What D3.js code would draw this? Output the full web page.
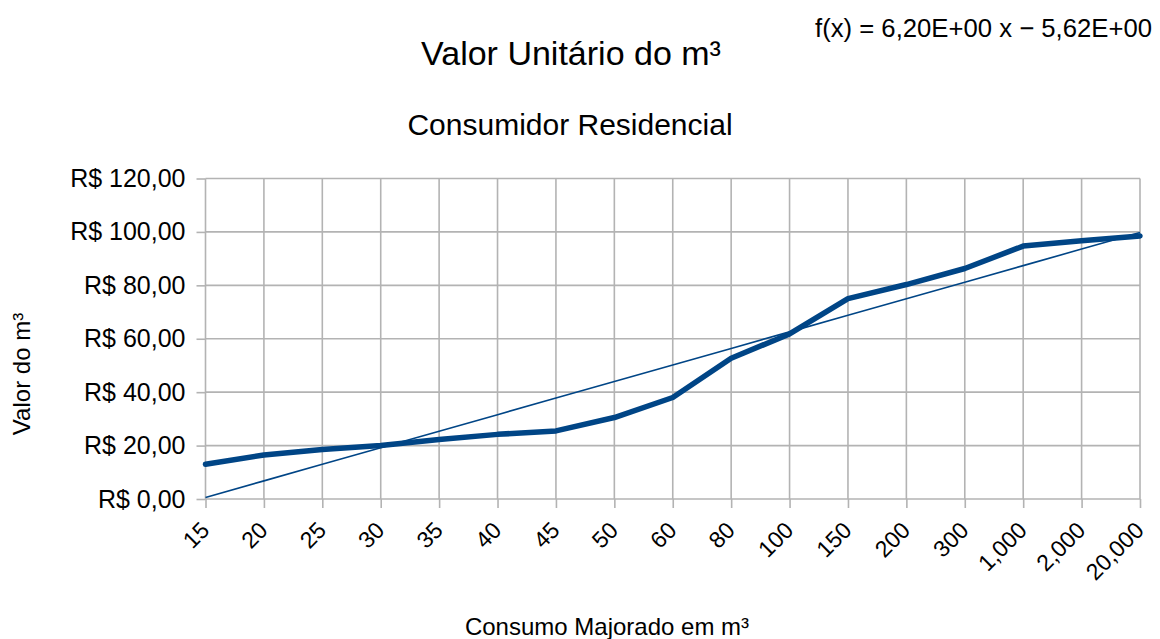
<!DOCTYPE html>
<html>
<head>
<meta charset="utf-8">
<script src="https://cdn.jsdelivr.net/npm/d3@7"></script>
<style>
  body { margin: 0; background: #fff; }
  text { font-family: "Liberation Sans", Arial, sans-serif; fill: #000; }
</style>
</head>
<body>
<div id="chart"></div>
<script>
// data
let categorias = ['15', '20', '25', '30', '35', '40', '45', '50', '60', '80', '100',
                  '150', '200', '300', '1,000', '2,000', '20,000'];
let valores = [13, 16.5, 18.5, 20, 22.3, 24.2, 25.5, 30.5, 38, 52.7, 61.8,
               75, 80.3, 86.3, 94.7, 96.7, 98.5];
let yTicks = [0, 20, 40, 60, 80, 100, 120];
let trendSlope = 6.20;
let trendIntercept = -5.62;
let trendLabel = 'f(x) = 6,20E+00 x \u2212 5,62E+00';

// configuration of svg/plot area
let config = {
    svg: {width: 1160, height: 639},
    margin: {top: 178.5, right: 20, bottom: 140, left: 205.5}
};
config.plot = {
    x: config.margin.left,
    y: config.margin.top,
    width: 1140 - config.margin.left,
    height: 499 - config.margin.top
};

let svg = d3.select('#chart').append('svg')
    .attr('width', config.svg.width)
    .attr('height', config.svg.height);

let plot = svg.append('g')
    .attr('transform', `translate(${config.plot.x},${config.plot.y})`);

let x = d3.scalePoint()
    .domain(categorias)
    .range([0, config.plot.width]);

let y = d3.scaleLinear()
    .domain([0, 120])
    .range([config.plot.height, 0]);

let brl = d => 'R$ ' + d3.format(',.2f')(d).replace(/,/g, 'X').replace('.', ',').replace(/X/g, '.');

let gridColor = '#b3b3b3';

// horizontal + vertical grid
plot.append('g')
    .selectAll('line')
    .data(yTicks)
    .join('line')
        .attr('x1', 0).attr('x2', config.plot.width)
        .attr('y1', d => y(d)).attr('y2', d => y(d))
        .attr('stroke', gridColor).attr('stroke-width', 1.6);

plot.append('g')
    .selectAll('line')
    .data(categorias)
    .join('line')
        .attr('x1', d => x(d)).attr('x2', d => x(d))
        .attr('y1', 0).attr('y2', config.plot.height)
        .attr('stroke', gridColor).attr('stroke-width', 1.6);

// y axis
let yAxis = g => g
    .call(d3.axisLeft(y).tickValues(yTicks).tickFormat(brl).tickSize(9).tickPadding(11))
    .call(g => g.select('.domain').remove())
    .call(g => g.selectAll('.tick line').attr('stroke', gridColor).attr('stroke-width', 1.6))
    .call(g => g.selectAll('.tick text').attr('font-size', 25).attr('fill', '#000')
        .style('font-family', '"Liberation Sans", Arial, sans-serif'));

plot.append('g').call(yAxis);

// x axis with rotated labels
let xAxis = g => g
    .attr('transform', `translate(0,${config.plot.height})`)
    .call(d3.axisBottom(x).tickSize(9))
    .call(g => g.select('.domain').remove())
    .call(g => g.selectAll('.tick line').attr('stroke', gridColor).attr('stroke-width', 1.6))
    .call(g => g.selectAll('.tick text')
        .attr('font-size', 23)
        .attr('fill', '#000')
        .style('font-family', '"Liberation Sans", Arial, sans-serif')
        .attr('text-anchor', 'end')
        .attr('x', 0)
        .attr('y', 0)
        .attr('dy', '0.35em')
        .attr('transform', 'translate(-1,27) rotate(-45)'));

plot.append('g').call(xAxis);

// trend line from the printed equation
let idx = d3.range(1, categorias.length + 1);
let trend = d3.line()
    .x((d, i) => x(categorias[i]))
    .y(d => y(trendSlope * d + trendIntercept));

plot.append('path')
    .datum(idx)
    .attr('d', trend)
    .attr('fill', 'none')
    .attr('stroke', '#004586')
    .attr('stroke-width', 1.6);

// main series
let line = d3.line()
    .x((d, i) => x(categorias[i]))
    .y(d => y(d));

plot.append('path')
    .datum(valores)
    .attr('d', line)
    .attr('fill', 'none')
    .attr('stroke', '#004586')
    .attr('stroke-width', 5.5)
    .attr('stroke-linejoin', 'round')
    .attr('stroke-linecap', 'round');

// titles
svg.append('text')
    .attr('x', 571).attr('y', 65)
    .attr('text-anchor', 'middle')
    .attr('font-size', 34)
    .text('Valor Unitário do m³');

svg.append('text')
    .attr('x', 570).attr('y', 135)
    .attr('text-anchor', 'middle')
    .attr('font-size', 30)
    .text('Consumidor Residencial');

svg.append('text')
    .attr('x', 815).attr('y', 37)
    .attr('font-size', 25.7)
    .text(trendLabel);

svg.append('text')
    .attr('x', 607).attr('y', 635)
    .attr('text-anchor', 'middle')
    .attr('font-size', 24)
    .text('Consumo Majorado em m³');

svg.append('text')
    .attr('transform', 'translate(30,374) rotate(-90)')
    .attr('text-anchor', 'middle')
    .attr('font-size', 24)
    .text('Valor do m³');
</script>
</body>
</html>
